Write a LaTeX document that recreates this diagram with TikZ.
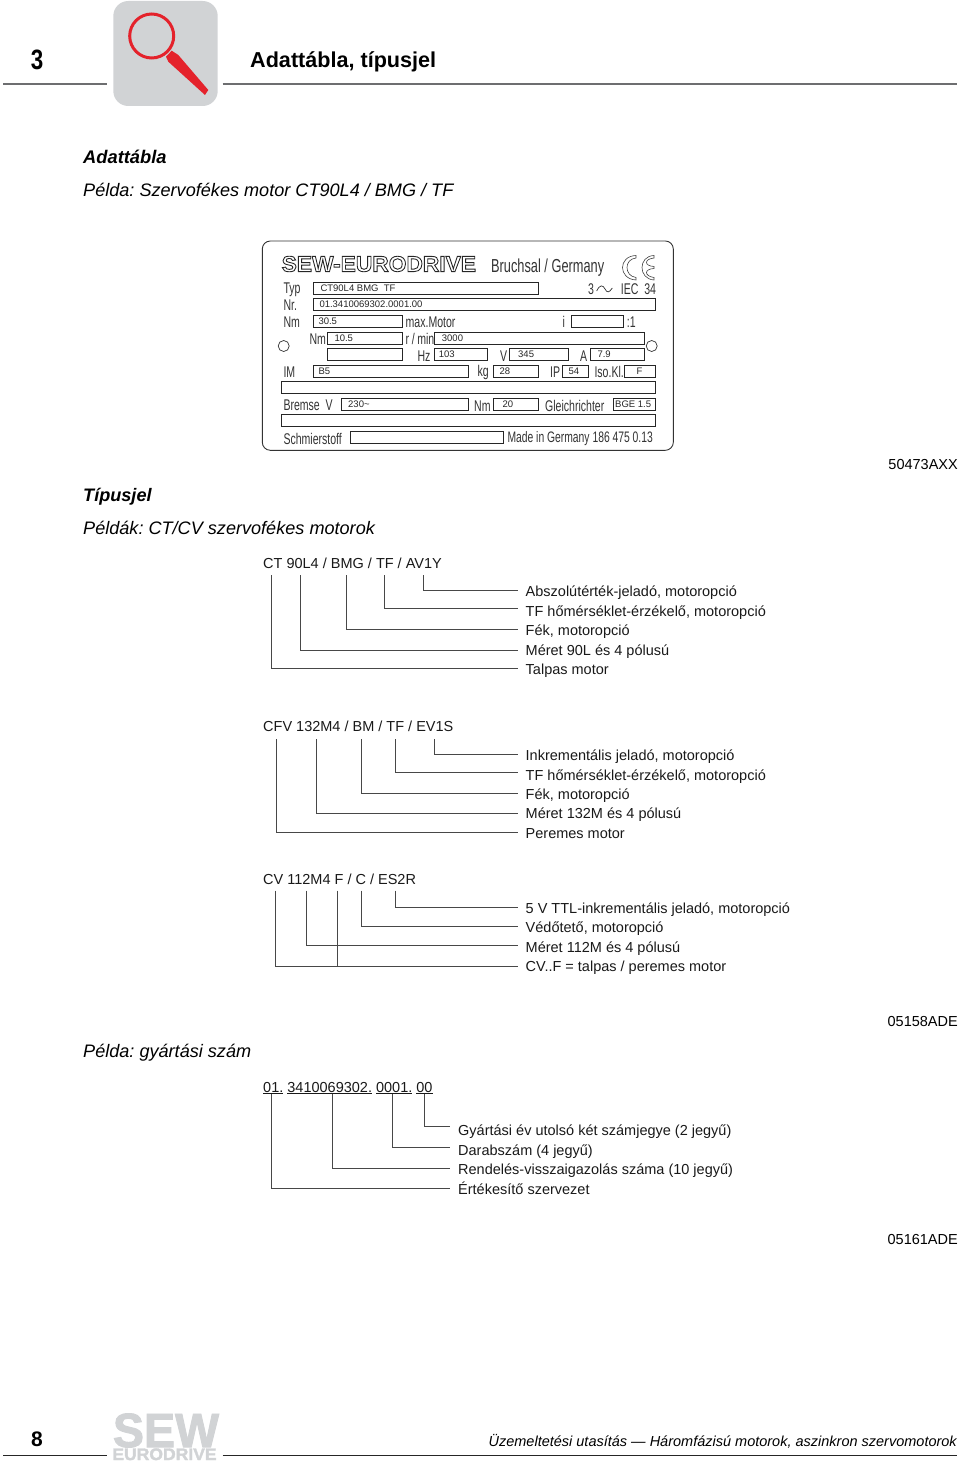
\documentclass[tikz,border=0pt]{standalone}
\usepackage{fontspec}
\setmainfont{Liberation Sans}
\newfontfamily\platefont[FakeStretch=0.68]{Liberation Sans}
\newfontfamily\chapfont[FakeStretch=0.8]{Liberation Sans}
\newfontfamily\outlinefont[FakeStretch=1.035,FakeBold=4]{Liberation Sans Bold}
\newfontfamily\sewfont[FakeStretch=0.97,FakeBold=2]{Liberation Sans Bold}
\newfontfamily\eurofont[FakeStretch=1.05,FakeBold=2]{Liberation Sans Bold}
\usetikzlibrary{positioning}
\definecolor{rulegrey}{HTML}{6D6E70}
\definecolor{tabgrey}{HTML}{D1D3D5}
\definecolor{lensred}{HTML}{E4222B}
\definecolor{leadgrey}{HTML}{484848}
\frenchspacing
\tikzset{
  bodytext/.style={anchor=west, inner sep=0pt, font=\fontsize{14.5}{16}\selectfont, text=black!90},
  leadtext/.style={anchor=west, inner ysep=0pt, inner xsep=7.5pt, text height=14pt, text depth=3pt, font=\fontsize{14.5}{16}\selectfont, text=black!90},
  headtext/.style={anchor=west, inner sep=0pt, font=\fontsize{18.1}{20}\selectfont\itshape},
  refcode/.style={anchor=east, inner sep=0pt, font=\fontsize{14.5}{16}\selectfont},
  lead/.style={draw=leadgrey, line width=1.25pt},
  rulebar/.style={draw=rulegrey, line width=1.3pt},
  platebox/.style={draw=black!85, line width=0.7pt, anchor=north west, inner sep=0pt, minimum height=12pt, minimum width=#1},
  platelab/.style={anchor=west, inner sep=0pt, font=\platefont\fontsize{15.5}{16}\selectfont, text=black!80},
  plateval/.style={anchor=west, inner sep=0pt, font=\fontsize{9.5}{10}\selectfont, text=black!85},
}
\begin{document}
\begin{tikzpicture}[x=1pt, y=-1pt]
  \useasboundingbox (0,0) rectangle (960,1463);

  % page head
  \node [anchor=center, inner sep=0pt, font=\chapfont\fontsize{28}{30}\selectfont\bfseries] (chapnum) at (37,60) {3};
  \node [anchor=west, inner sep=0pt, font=\fontsize{21.6}{24}\selectfont\bfseries] (chaptitle) at (250,61.5) {Adattábla, típusjel};
  \draw [rulebar] (3,84) -- (106.7,84);
  \draw [rulebar] (222.7,84) -- (957,84);
  \fill [tabgrey, rounded corners=15pt] (113.3,1) rectangle (217.7,106);
  \draw [lensred, line width=3pt] (151.7,36) circle (22);
  \fill [lensred] (166,56.7) -- (171.7,50.7) -- (178.3,55) -- (208.3,90) -- (205,95) -- (168.3,61.7) -- cycle;

  % name plate
  \node [headtext, font=\fontsize{18.3}{20}\selectfont\bfseries\itshape] (platehead) at (83,157) {Adattábla};
  \node [headtext] (platesub) at (83,189.5) {Példa: Szervofékes motor CT90L4 / BMG / TF};
  \draw [black!80, line width=0.9pt, rounded corners=8pt] (262.3,241) rectangle (673.3,450.3);

  \node [anchor=west, inner sep=0pt, font=\outlinefont\fontsize{22}{24}\selectfont] (sewplate) at (281.5,264) {\color{white}\special{pdf:code 0.15 0.15 0.15 RG}SEW-EURODRIVE};
  \node [platelab, font=\platefont\fontsize{18.8}{20}\selectfont] (bruchsal) at (491,267.3) {Bruchsal / Germany};
  \draw [black!75, line width=0.6pt] (636,255.5) .. controls (618,256) and (618,279) .. (636,280) -- (636,277.5) .. controls (624,276) and (624,259) .. (636,258) -- cycle;
  \draw [black!75, line width=0.6pt] (654,255.5) .. controls (638,256) and (638,279) .. (654,280) -- (654,277.5) .. controls (644,276) and (644,269) .. (654,268.5) -- (654,266.5) .. controls (644,266) and (644,259) .. (654,258) -- cycle;
  \draw [black!80, line width=0.7pt] (283.7,346) circle (5.5);
  \draw [black!80, line width=0.7pt] (651.7,346) circle (5.5);
  \draw [black!80, line width=0.7pt] (596.7,291) .. controls (600,284) and (603,285) .. (605,289) .. controls (607,293) and (609,293) .. (612.3,288);

  \node [platebox=224.4] (typbox) at (313.3,281.7) {};
  \node [platebox=341.7] (nrbox) at (313.3,298.3) {};
  \node [platebox=88.4] (nmbox) at (313.3,315) {};
  \node [platebox=51.7] (ibox) at (571,315) {};
  \node [platebox=74.4] (nmtwobox) at (327.3,331.7) {};
  \node [platebox=210] (rpmbox) at (433.7,331.7) {};
  \node [platebox=74.4] (emptybox) at (327.3,348.3) {};
  \node [platebox=53] (hzbox) at (433.7,348.3) {};
  \node [platebox=58.7] (vbox) at (509,348.3) {};
  \node [platebox=53.4] (abox) at (590.3,348.3) {};
  \node [platebox=155] (imbox) at (313.3,365) {};
  \node [platebox=44.4] (kgbox) at (493.3,365) {};
  \node [platebox=26] (ipbox) at (562.3,365) {};
  \node [platebox=30.7] (isobox) at (624.3,365) {};
  \node [platebox=374] (rowabox) at (281,381.3) {};
  \node [platebox=127.3] (brakebox) at (341,398.3) {};
  \node [platebox=44.4] (nmthreebox) at (493.3,398.3) {};
  \node [platebox=42] (bgebox) at (613,398.3) {};
  \node [platebox=374] (rowbbox) at (281,414.3) {};
  \node [platebox=152.7] (oilbox) at (350.3,431.3) {};

  \node [plateval, right=7pt of typbox.west] (typval) {CT90L4 BMG\ \ TF};
  \node [plateval, right=6pt of nrbox.west] (nrval) {01.3410069302.0001.00};
  \node [plateval, right=5pt of nmbox.west] (nmval) {30.5};
  \node [plateval, right=7pt of nmtwobox.west] (nmtwoval) {10.5};
  \node [plateval, right=8pt of rpmbox.west] (rpmval) {3000};
  \node [plateval, right=5pt of hzbox.west] (hzval) {103};
  \node [plateval, right=9pt of vbox.west] (vval) {345};
  \node [plateval, right=7pt of abox.west] (aval) {7.9};
  \node [plateval, right=5pt of imbox.west] (imval) {B5};
  \node [plateval, right=6pt of kgbox.west] (kgval) {28};
  \node [plateval, right=6pt of ipbox.west] (ipval) {54};
  \node [plateval, right=12pt of isobox.west] (isoval) {F};
  \node [plateval, right=7pt of brakebox.west] (brakeval) {230\textasciitilde};
  \node [plateval, right=9pt of nmthreebox.west] (nmthreeval) {20};
  \node [plateval, right=2pt of bgebox.west] (bgeval) {BGE 1.5};

  \node [platelab] (typlab) at (283.3,290) {Typ};
  \node [platelab] (nrlab) at (283.3,305) {Nr.};
  \node [platelab] (nmlab) at (283.3,322.3) {Nm};
  \node [platelab] (maxlab) at (405.5,322.3) {max.Motor};
  \node [platelab] (ilab) at (562.3,322.3) {i};
  \node [platelab] (ratiolab) at (626.7,322.3) {:1};
  \node [platelab] (nmtwolab) at (309.3,339.3) {Nm};
  \node [platelab] (rpmlab) at (405.5,339.3) {r\,/\,min};
  \node [platelab] (hzlab) at (417.3,355.7) {Hz};
  \node [platelab] (vlab) at (500,355.7) {V};
  \node [platelab] (alab) at (580,355.7) {A};
  \node [platelab] (imlab) at (283.3,371.7) {IM};
  \node [platelab] (kglab) at (477.3,372.3) {kg};
  \node [platelab] (iplab) at (550,372.3) {IP};
  \node [platelab] (isolab) at (594.3,372.3) {Iso.Kl.};
  \node [platelab] (brakelab) at (283.3,405.7) {Bremse\ \ V};
  \node [platelab] (nmthreelab) at (474,405.7) {Nm};
  \node [platelab] (rectlab) at (545,405.7) {Gleichrichter};
  \node [platelab] (oillab) at (283.3,439) {Schmierstoff};
  \node [platelab, font=\platefont\fontsize{15.2}{16}\selectfont] (madelab) at (507.3,439) {Made in Germany 186 475 0.13};
  \node [platelab] (phaselab) at (588,289.5) {3};
  \node [platelab] (ieclab) at (620.7,289.5) {IEC\ \ 34};

  % type code
  \node [refcode] (coderef) at (958,464.5) {50473AXX};
  \node [headtext, font=\fontsize{18.1}{20}\selectfont\bfseries\itshape] (typehead) at (83,497) {Típusjel};
  \node [headtext] (typesub) at (83,528) {Példák: CT/CV szervofékes motorok};

  % first code
  \node [bodytext] (ctcode) at (263,563) {CT 90L4 / BMG / TF / AV1Y};
  \coordinate (cta) at (423.5,575);
  \coordinate (ctb) at (384.5,575);
  \coordinate (ctc) at (346.5,575);
  \coordinate (ctd) at (300.5,575);
  \coordinate (cte) at (271.5,575);
  \node [leadtext] (ctalab) at (518,590.5) {Abszolútérték-jeladó, motoropció};
  \node [leadtext, text height=18pt] (ctblab) at (518,608.5) {TF hőmérséklet-érzékelő, motoropció};
  \node [leadtext] (ctclab) at (518,629.5) {Fék, motoropció};
  \node [leadtext, text height=12pt] (ctdlab) at (518,650.5) {Méret 90L és 4 pólusú};
  \node [leadtext] (ctelab) at (518,668.5) {Talpas motor};
  \draw [lead] (cta) |- (ctalab.west);
  \draw [lead] (ctb) |- (ctblab.west);
  \draw [lead] (ctc) |- (ctclab.west);
  \draw [lead] (ctd) |- (ctdlab.west);
  \draw [lead] (cte) |- (ctelab.west);

  % second code
  \node [bodytext] (cfvcode) at (263,726.7) {CFV 132M4 / BM / TF / EV1S};
  \coordinate (cfva) at (434.5,739);
  \coordinate (cfvb) at (395.5,739);
  \coordinate (cfvc) at (361.5,739);
  \coordinate (cfvd) at (316.5,739);
  \coordinate (cfve) at (276.5,739);
  \node [leadtext] (cfvalab) at (518,754.5) {Inkrementális jeladó, motoropció};
  \node [leadtext, text height=18pt] (cfvblab) at (518,772.5) {TF hőmérséklet-érzékelő, motoropció};
  \node [leadtext] (cfvclab) at (518,793.5) {Fék, motoropció};
  \node [leadtext, text height=12pt] (cfvdlab) at (518,813.5) {Méret 132M és 4 pólusú};
  \node [leadtext] (cfvelab) at (518,832.5) {Peremes motor};
  \draw [lead] (cfva) |- (cfvalab.west);
  \draw [lead] (cfvb) |- (cfvblab.west);
  \draw [lead] (cfvc) |- (cfvclab.west);
  \draw [lead] (cfvd) |- (cfvdlab.west);
  \draw [lead] (cfve) |- (cfvelab.west);

  % third code
  \node [bodytext] (cvcode) at (263,879.5) {CV 112M4 F / C / ES2R};
  \coordinate (cva) at (395.5,890.7);
  \coordinate (cvb) at (361.5,890.7);
  \coordinate (cvf) at (337.5,890.7);
  \coordinate (cvc) at (306.5,890.7);
  \coordinate (cvd) at (275.5,890.7);
  \node [leadtext] (cvalab) at (518,907.5) {5 V TTL-inkrementális jeladó, motoropció};
  \node [leadtext] (cvblab) at (518,926.5) {Védőtető, motoropció};
  \node [leadtext, text height=16pt] (cvclab) at (518,945.5) {Méret 112M és 4 pólusú};
  \node [leadtext, text height=13pt] (cvdlab) at (518,966.5) {CV..F = talpas / peremes motor};
  \draw [lead] (cva) |- (cvalab.west);
  \draw [lead] (cvb) |- (cvblab.west);
  \draw [lead] (cvc) |- (cvclab.west);
  \draw [lead] (cvd) |- (cvdlab.west);
  \draw [lead, line width=0.7pt] (cvf) -- (cvf |- cvdlab.west);

  % serial number
  \node [refcode] (serialref) at (958,1021.5) {05158ADE};
  \node [headtext] (serialhead) at (83,1053) {Példa: gyártási szám};
  \node [bodytext] (serialcode) at (263,1088) {\underline{01.} \underline{3410069302.} \underline{0001.} \underline{00}};
  \coordinate (sna) at (424.5,1094);
  \coordinate (snb) at (392.5,1094);
  \coordinate (snc) at (332.5,1094);
  \coordinate (snd) at (271.5,1094);
  \node [leadtext, inner xsep=8.5pt, text height=20.6pt] (snalab) at (449.5,1126.5) {Gyártási év utolsó két számjegye (2 jegyű)};
  \node [leadtext, inner xsep=8.5pt, text height=18.4pt] (snblab) at (449.5,1147.5) {Darabszám (4 jegyű)};
  \node [leadtext, inner xsep=8.5pt] (snclab) at (449.5,1168.5) {Rendelés-visszaigazolás száma (10 jegyű)};
  \node [leadtext, inner xsep=8.5pt] (sndlab) at (449.5,1188.5) {Értékesítő szervezet};
  \draw [lead] (sna) |- (snalab.west);
  \draw [lead] (snb) |- (snblab.west);
  \draw [lead] (snc) |- (snclab.west);
  \draw [lead] (snd) |- (sndlab.west);
  \node [refcode] (endref) at (958,1239.5) {05161ADE};

  % page foot
  \node [anchor=center, inner sep=0pt, font=\fontsize{21}{22}\selectfont\bfseries] (pagenum) at (37,1439) {8};
  \draw [black!85, line width=0.9pt] (3,1455) -- (107,1455);
  \draw [black!85, line width=0.9pt] (222.7,1455) -- (957,1455);
  \node [anchor=base, inner sep=0pt, text=tabgrey, font=\sewfont\fontsize{48}{48}\selectfont] (sewlogo) at (166,1447) {SEW};
  \node [anchor=base, inner sep=0pt, text=tabgrey, font=\eurofont\fontsize{16.7}{18}\selectfont] (eurologo) at (164.5,1460) {EURODRIVE};
  \node [refcode, font=\fontsize{14.5}{16}\selectfont\itshape] (doctitle) at (957,1441) {Üzemeltetési utasítás — Háromfázisú motorok, aszinkron szervomotorok};
\end{tikzpicture}
\end{document}
